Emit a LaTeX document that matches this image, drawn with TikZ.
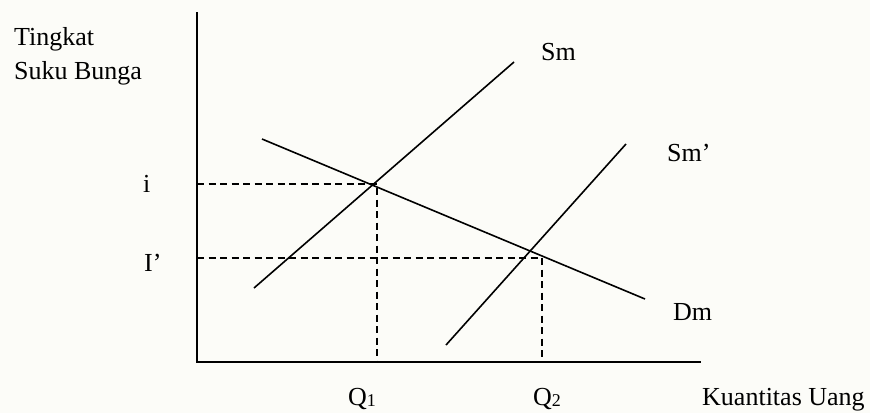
\documentclass[tikz,border=0pt]{standalone}
\usepackage{fontspec}
\setmainfont{Liberation Serif}
\newcommand{\qsub}[1]{\raisebox{-1.5pt}{\fontsize{18}{18}\selectfont #1}}
\begin{document}
\begin{tikzpicture}[x=1pt,y=-1pt,
  axis/.style={line width=1.9pt},
  curve/.style={line width=1.6pt},
  guide/.style={line width=1.5pt, dash pattern=on 7pt off 4.5pt},
  lbl/.style={anchor=base west, inner sep=0pt, font=\fontsize{26}{30}\selectfont}]
\fill[fill={rgb,255:red,252;green,252;blue,248}] (0,0) rectangle (870,413);
\useasboundingbox (0,0) rectangle (870,413);
% axes
\coordinate (O) at (197,362);
\coordinate (ytop) at (197,12);
\coordinate (xend) at (701,362);
\draw[axis] (ytop) -- (O) -- (xend);
% curves
\coordinate (sm1) at (254,288);
\coordinate (sm2) at (514,62);
\coordinate (sp1) at (446,345);
\coordinate (sp2) at (626,144);
\coordinate (dm1) at (262,139);
\coordinate (dm2) at (645,299);
\draw[curve] (sm1) -- (sm2);
\draw[curve] (sp1) -- (sp2);
\draw[curve] (dm1) -- (dm2);
% guides
\coordinate (iy) at (197,184);
\coordinate (E1) at (377,184);
\coordinate (q1) at (377,362);
\coordinate (Iy) at (197,258);
\coordinate (E2) at (542,258);
\coordinate (q2) at (542,362);
\draw[guide] (iy) -- (E1) -- (q1);
\draw[guide] (Iy) -- (E2) -- (q2);
% labels
\node[lbl] (ylab1) at (14,45) {Tingkat};
\node[lbl] (ylab2) at (14,79) {Suku Bunga};
\node[lbl] (lsm) at (541,60) {Sm};
\node[lbl] (lsp) at (667,161) {Sm’};
\node[lbl] (ldm) at (673,320) {Dm};
\node[lbl] (li) at (143,192) {i};
\node[lbl] (lI) at (144,271) {I’};
\node[lbl] (lq1) at (348,405) {Q\qsub{1}};
\node[lbl] (lq2) at (533,405) {Q\qsub{2}};
\node[lbl] (xlab) at (702,405) {Kuantitas Uang};
\end{tikzpicture}
\end{document}
